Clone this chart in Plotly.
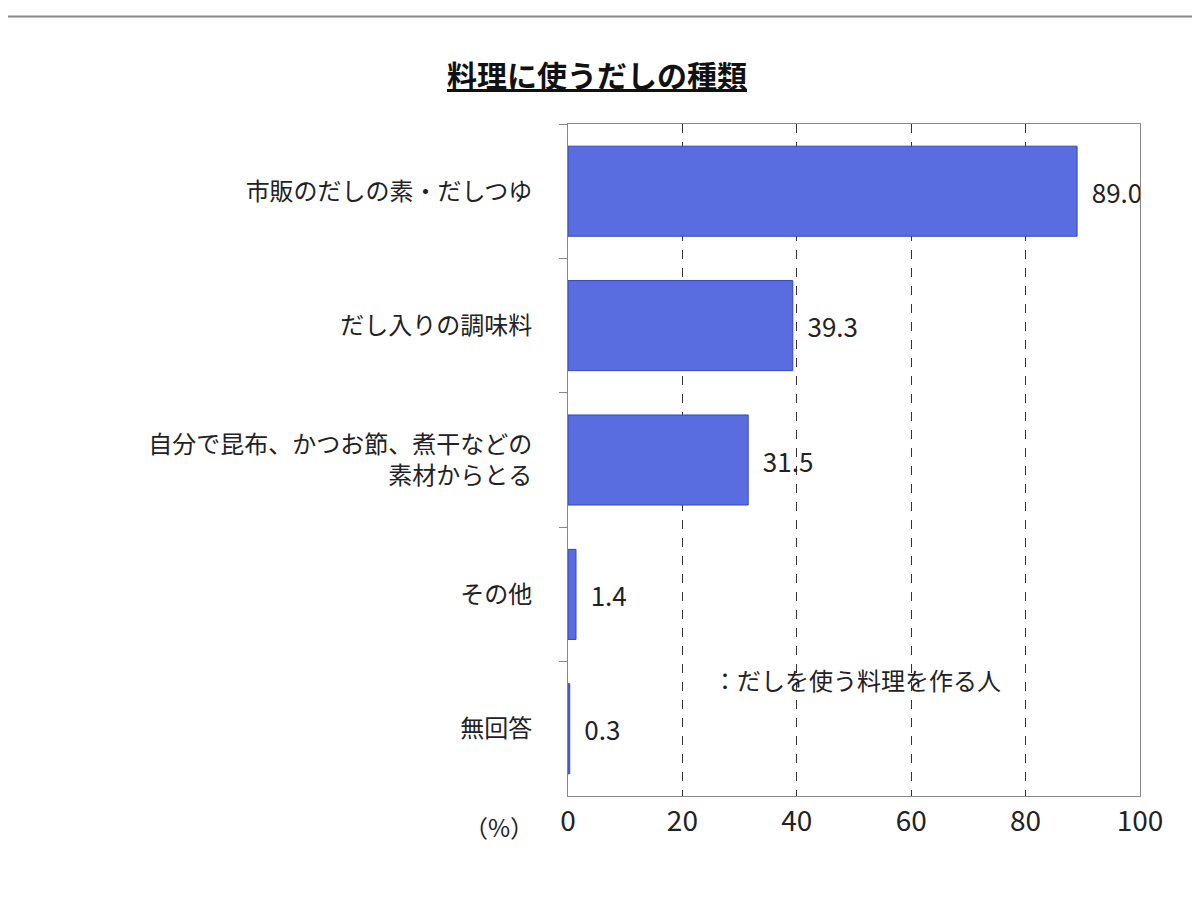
import plotly.graph_objects as go

categories = ["市販のだしの素・だしつゆ", "だし入りの調味料",
              "自分で昆布、かつお節、煮干などの<br>素材からとる", "その他", "無回答"]
values = [89.0, 39.3, 31.5, 1.4, 0.3]
labels = ["89.0", "39.3", "31.5", "1.4", "0.3"]

font = "Noto Sans CJK JP"

fig = go.Figure(go.Bar(
    x=values, y=categories, orientation="h", width=0.67,
    marker=dict(color="#5a6de0", line=dict(color="#3446b8", width=1)),
    text=["  " + t for t in labels], textposition="outside", cliponaxis=False,
    textfont=dict(size=26, color="#222", family=font),
))

fig.update_layout(
    width=1200, height=900, paper_bgcolor="white", plot_bgcolor="white",
    margin=dict(l=560, r=68, t=116, b=112),
    font=dict(family=font, size=24, color="#222"),
    showlegend=False,
    shapes=[dict(type="rect", xref="paper", yref="paper", x0=-0.99, x1=1.095,
                 y0=-0.17, y1=1.16, line=dict(color="#888", width=2))],
    annotations=[
        dict(text="<b><u>料理に使うだしの種類</u></b>", xref="paper", yref="paper",
             x=0.05, y=1.11, xanchor="center", showarrow=False,
             font=dict(size=30, color="#111")),
        dict(text="：だしを使う料理を作る人", xref="paper", yref="paper",
             x=0.25, y=0.145, xanchor="left", showarrow=False, font=dict(size=24)),
        dict(text="（%）", xref="paper", yref="paper", x=-0.12, y=-0.075,
             xanchor="center", showarrow=False, font=dict(size=24)),
    ],
)
fig.update_xaxes(range=[0, 100], dtick=20, showgrid=True, gridcolor="#333",
                 griddash="dash", gridwidth=1, zeroline=False,
                 tickfont=dict(size=28), ticks="", mirror=True,
                 showline=True, linecolor="#888")
fig.update_yaxes(autorange="reversed", showline=True, linecolor="#888",
                 ticks="outside", ticklen=8, tickcolor="#888", tickson="boundaries",
                 tickfont=dict(size=24), mirror=True, ticklabelstandoff=30)

fig.write_html("out.html")
